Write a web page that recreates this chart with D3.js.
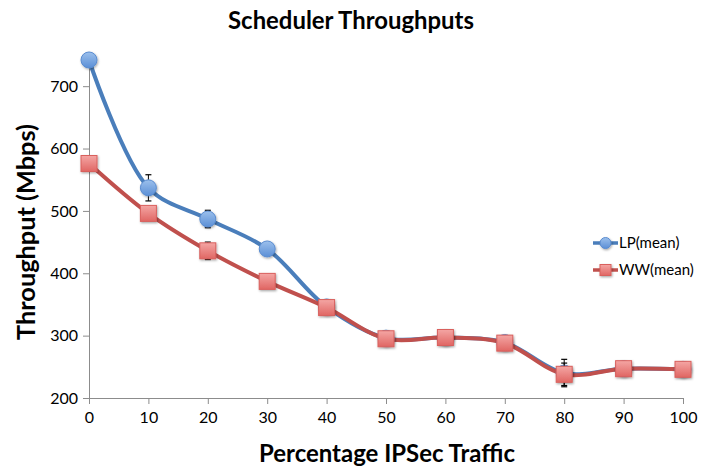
<!DOCTYPE html>
<html>
<head>
<meta charset="utf-8">
<script src="https://cdn.jsdelivr.net/npm/d3@7/dist/d3.min.js"></script>
<style>
  html, body { margin: 0; padding: 0; background: #fff; }
  svg { display: block; font-family: Lato, "Open Sans", sans-serif; }
</style>
</head>
<body>
<svg id="chart" width="701" height="471"></svg>
<script>
// ---- data ----
const xValues = [0, 10, 20, 30, 40, 50, 60, 70, 80, 90, 100];
const lpMean  = [742, 537, 487, 439, 346, 296, 297, 289, 240, 247, 246];
const wwMean  = [576, 496, 436, 387, 345, 295, 297, 288, 238, 247, 246];
const lpErr   = [0, 21, 14, 0, 0, 0, 0, 0, 22, 0, 0];
const wwErr   = [0, 0, 14, 0, 0, 0, 0, 0, 18, 0, 0];
const xTicks  = [0, 10, 20, 30, 40, 50, 60, 70, 80, 90, 100];
const yTicks  = [200, 300, 400, 500, 600, 700];
const seriesNames = ["LP(mean)", "WW(mean)"];
const titleText = "Scheduler Throughputs";
const xTitleText = "Percentage IPSec Traffic";
const yTitleText = "Throughput (Mbps)";

// ---- layout ----
const svg = d3.select("#chart");
const x = d3.scaleLinear().domain([0, 100]).range([89, 683]);
const y = d3.scaleLinear().domain([200, 750]).range([398, 55]);

const defs = svg.append("defs");
const shadow = defs.append("filter").attr("id", "sh").attr("x", "-50%").attr("y", "-50%").attr("width", "200%").attr("height", "200%");
shadow.append("feDropShadow").attr("dx", 0.8).attr("dy", 1.2).attr("stdDeviation", 1).attr("flood-color", "#000").attr("flood-opacity", 0.35);
const gBlue = defs.append("linearGradient").attr("id", "gb").attr("x1", 0).attr("y1", 0).attr("x2", 0).attr("y2", 1);
gBlue.append("stop").attr("offset", "0%").attr("stop-color", "#9cc0ec");
gBlue.append("stop").attr("offset", "100%").attr("stop-color", "#5b8fd6");
const gRed = defs.append("linearGradient").attr("id", "gr").attr("x1", 0).attr("y1", 0).attr("x2", 0).attr("y2", 1);
gRed.append("stop").attr("offset", "0%").attr("stop-color", "#f4a6a4");
gRed.append("stop").attr("offset", "100%").attr("stop-color", "#e06663");

// ---- axes ----
const yAxis = d3.axisLeft(y).tickValues(yTicks).tickSize(6).tickPadding(5).tickSizeOuter(0);
const gy = svg.append("g").attr("transform", `translate(${x(0)},0)`).call(yAxis);
const xAxis = d3.axisBottom(x).tickValues(xTicks).tickSize(6).tickPadding(8).tickSizeOuter(0);
const gx = svg.append("g").attr("transform", `translate(0,${y(200)})`).call(xAxis);
[gx, gy].forEach(g => {
  g.select(".domain").attr("stroke", "#8c8c8c").attr("stroke-width", 1);
  g.selectAll(".tick line").attr("stroke", "#8c8c8c");
  g.selectAll(".tick text").attr("fill", "#000").style("font-size", "16px").style("font-family", "Lato, sans-serif");
});

// ---- lines ----
const line = d3.line().x(d => x(d.x)).y(d => y(d.v)).curve(d3.curveCatmullRom.alpha(0.5));
const series = [
  { name: seriesNames[0], vals: lpMean, err: lpErr, color: "#4a7ebb", fill: "url(#gb)", stroke: "#5a8cd0", shape: "circle" },
  { name: seriesNames[1], vals: wwMean, err: wwErr, color: "#c0504d", fill: "url(#gr)", stroke: "#d9605d", shape: "square" }
];
series.forEach(s => { s.data = xValues.map((xv, i) => ({ x: xv, v: s.vals[i], e: s.err[i] })); });

function drawMarker(g, shape, fill, stroke, r) {
  if (shape === "circle") {
    g.append("circle").attr("r", r).attr("fill", fill).attr("stroke", stroke).attr("stroke-width", 1).attr("filter", "url(#sh)");
  } else {
    g.append("rect").attr("x", -r).attr("y", -r).attr("width", 2 * r).attr("height", 2 * r).attr("fill", fill).attr("stroke", stroke).attr("stroke-width", 1).attr("filter", "url(#sh)");
  }
}

series.forEach(s => {
  svg.append("path").datum(s.data).attr("d", line).attr("fill", "none")
    .attr("stroke", s.color).attr("stroke-width", 4).attr("stroke-linejoin", "round").attr("stroke-linecap", "round");
});
series.forEach(s => {
  // error bars (under markers)
  const eb = svg.append("g").selectAll("g").data(s.data.filter(d => d.e > 0)).join("g");
  eb.append("line").attr("x1", d => x(d.x)).attr("x2", d => x(d.x))
    .attr("y1", d => y(d.v + d.e)).attr("y2", d => y(d.v - d.e)).attr("stroke", "#000").attr("stroke-width", 1);
  eb.append("line").attr("x1", d => x(d.x) - 3).attr("x2", d => x(d.x) + 3)
    .attr("y1", d => y(d.v + d.e)).attr("y2", d => y(d.v + d.e)).attr("stroke", "#000").attr("stroke-width", 1.2);
  eb.append("line").attr("x1", d => x(d.x) - 3).attr("x2", d => x(d.x) + 3)
    .attr("y1", d => y(d.v - d.e)).attr("y2", d => y(d.v - d.e)).attr("stroke", "#000").attr("stroke-width", 1.2);
  const pts = svg.append("g").selectAll("g").data(s.data).join("g")
    .attr("transform", d => `translate(${x(d.x)},${y(d.v)})`);
  pts.each(function () { drawMarker(d3.select(this), s.shape, s.fill, s.stroke, 8); });
});

// ---- legend ----
const leg = svg.append("g");
series.forEach((s, i) => {
  const ly = 243 + i * 27;
  const g = leg.append("g").attr("transform", `translate(593,${ly})`);
  g.append("line").attr("x1", 0).attr("x2", 25).attr("y1", 0).attr("y2", 0).attr("stroke", s.color).attr("stroke-width", 3.5);
  const mg = g.append("g").attr("transform", "translate(12.5,0)");
  drawMarker(mg, s.shape, s.fill, s.stroke, 5.5);
  g.append("text").attr("x", 26).attr("y", 5).text(s.name).style("font-size", "15px").attr("fill", "#000");
});

// ---- titles (fit to measured width) ----
function fitText(sel, target) {
  const w = sel.node().getComputedTextLength();
  const fs = parseFloat(sel.style("font-size"));
  sel.style("font-size", (fs * target / w).toFixed(2) + "px");
}
const t = svg.append("text").attr("x", 351).attr("y", 29).attr("text-anchor", "middle")
  .style("font-weight", "bold").style("font-size", "20px").text(titleText);
fitText(t, 246);
const xt = svg.append("text").attr("x", 387).attr("y", 462).attr("text-anchor", "middle")
  .style("font-weight", "bold").style("font-size", "22px").text(xTitleText);
fitText(xt, 256);
const yt = svg.append("text").attr("transform", "translate(35,232) rotate(-90)").attr("text-anchor", "middle")
  .style("font-weight", "bold").style("font-size", "22px").text(yTitleText);
fitText(yt, 216);
</script>
</body>
</html>
